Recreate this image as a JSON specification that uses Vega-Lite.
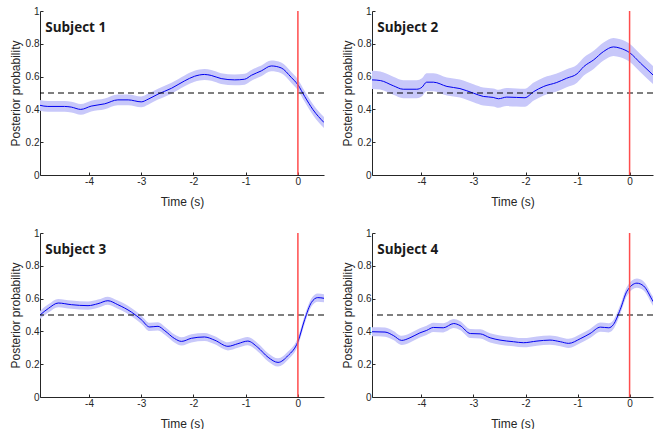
{
  "$schema": "https://vega.github.io/schema/vega-lite/v6.json",
  "padding": {"left": 9, "top": 6, "right": 0, "bottom": 0},
  "background": "white",
  "bounds": "flush",
  "columns": 2,
  "spacing": {"row": 58, "column": 48},
  "config": {
    "view": {"stroke": null},
    "axis": {
      "grid": false,
      "domainColor": "#262626",
      "tickColor": "#262626",
      "labelColor": "#262626",
      "titleColor": "#262626",
      "labelFont": "Liberation Sans",
      "titleFont": "Liberation Sans",
      "labelFontSize": 10,
      "titleFontSize": 12,
      "titleFontWeight": "normal",
      "labelPadding": 4,
      "tickSize": -3,
      "domainWidth": 1
    },
    "axisX": {"titlePadding": 10, "labelExpr": "'' + datum.value"},
    "axisY": {"titlePadding": 3, "labelExpr": "'' + datum.value"}
  },
  "datasets": {
    "curves": [
      {"s":1,"t":-4.94,"p":0.425,"lo":0.392,"hi":0.458},
      {"s":1,"t":-4.79,"p":0.418,"lo":0.385,"hi":0.451},
      {"s":1,"t":-4.47,"p":0.418,"lo":0.385,"hi":0.451},
      {"s":1,"t":-4.34,"p":0.414,"lo":0.381,"hi":0.447},
      {"s":1,"t":-4.16,"p":0.400,"lo":0.367,"hi":0.433},
      {"s":1,"t":-3.96,"p":0.420,"lo":0.387,"hi":0.453},
      {"s":1,"t":-3.70,"p":0.434,"lo":0.401,"hi":0.467},
      {"s":1,"t":-3.45,"p":0.458,"lo":0.425,"hi":0.491},
      {"s":1,"t":-3.25,"p":0.458,"lo":0.425,"hi":0.491},
      {"s":1,"t":-3.00,"p":0.446,"lo":0.413,"hi":0.479},
      {"s":1,"t":-2.87,"p":0.462,"lo":0.429,"hi":0.495},
      {"s":1,"t":-2.68,"p":0.493,"lo":0.460,"hi":0.526},
      {"s":1,"t":-2.42,"p":0.529,"lo":0.496,"hi":0.562},
      {"s":1,"t":-2.17,"p":0.574,"lo":0.541,"hi":0.607},
      {"s":1,"t":-1.98,"p":0.602,"lo":0.569,"hi":0.635},
      {"s":1,"t":-1.79,"p":0.613,"lo":0.580,"hi":0.646},
      {"s":1,"t":-1.66,"p":0.607,"lo":0.574,"hi":0.640},
      {"s":1,"t":-1.47,"p":0.588,"lo":0.555,"hi":0.621},
      {"s":1,"t":-1.21,"p":0.580,"lo":0.547,"hi":0.613},
      {"s":1,"t":-1.02,"p":0.584,"lo":0.551,"hi":0.617},
      {"s":1,"t":-0.89,"p":0.608,"lo":0.575,"hi":0.641},
      {"s":1,"t":-0.70,"p":0.635,"lo":0.602,"hi":0.668},
      {"s":1,"t":-0.51,"p":0.665,"lo":0.632,"hi":0.698},
      {"s":1,"t":-0.32,"p":0.653,"lo":0.620,"hi":0.686},
      {"s":1,"t":-0.13,"p":0.596,"lo":0.563,"hi":0.629},
      {"s":1,"t":0.00,"p":0.550,"lo":0.517,"hi":0.583},
      {"s":1,"t":0.13,"p":0.479,"lo":0.446,"hi":0.512},
      {"s":1,"t":0.29,"p":0.398,"lo":0.365,"hi":0.431},
      {"s":1,"t":0.50,"p":0.320,"lo":0.287,"hi":0.353},

      {"s":2,"t":-4.95,"p":0.580,"lo":0.525,"hi":0.635},
      {"s":2,"t":-4.79,"p":0.576,"lo":0.521,"hi":0.631},
      {"s":2,"t":-4.54,"p":0.544,"lo":0.489,"hi":0.599},
      {"s":2,"t":-4.35,"p":0.523,"lo":0.468,"hi":0.578},
      {"s":2,"t":-4.09,"p":0.523,"lo":0.468,"hi":0.578},
      {"s":2,"t":-3.99,"p":0.535,"lo":0.480,"hi":0.590},
      {"s":2,"t":-3.90,"p":0.566,"lo":0.511,"hi":0.621},
      {"s":2,"t":-3.77,"p":0.566,"lo":0.511,"hi":0.621},
      {"s":2,"t":-3.51,"p":0.540,"lo":0.485,"hi":0.595},
      {"s":2,"t":-3.26,"p":0.527,"lo":0.472,"hi":0.582},
      {"s":2,"t":-3.00,"p":0.499,"lo":0.444,"hi":0.554},
      {"s":2,"t":-2.81,"p":0.479,"lo":0.424,"hi":0.534},
      {"s":2,"t":-2.62,"p":0.473,"lo":0.418,"hi":0.528},
      {"s":2,"t":-2.52,"p":0.465,"lo":0.410,"hi":0.520},
      {"s":2,"t":-2.36,"p":0.475,"lo":0.420,"hi":0.530},
      {"s":2,"t":-2.17,"p":0.473,"lo":0.418,"hi":0.528},
      {"s":2,"t":-2.01,"p":0.471,"lo":0.416,"hi":0.526},
      {"s":2,"t":-1.85,"p":0.507,"lo":0.452,"hi":0.562},
      {"s":2,"t":-1.65,"p":0.540,"lo":0.485,"hi":0.595},
      {"s":2,"t":-1.40,"p":0.564,"lo":0.509,"hi":0.619},
      {"s":2,"t":-1.21,"p":0.590,"lo":0.535,"hi":0.645},
      {"s":2,"t":-1.01,"p":0.617,"lo":0.562,"hi":0.672},
      {"s":2,"t":-0.88,"p":0.661,"lo":0.606,"hi":0.716},
      {"s":2,"t":-0.69,"p":0.702,"lo":0.647,"hi":0.757},
      {"s":2,"t":-0.50,"p":0.753,"lo":0.698,"hi":0.808},
      {"s":2,"t":-0.31,"p":0.781,"lo":0.726,"hi":0.836},
      {"s":2,"t":-0.18,"p":0.773,"lo":0.718,"hi":0.828},
      {"s":2,"t":0.00,"p":0.746,"lo":0.691,"hi":0.801},
      {"s":2,"t":0.21,"p":0.682,"lo":0.627,"hi":0.737},
      {"s":2,"t":0.45,"p":0.610,"lo":0.555,"hi":0.665},
      {"s":2,"t":0.50,"p":0.595,"lo":0.540,"hi":0.650},

      {"s":3,"t":-4.94,"p":0.500,"lo":0.475,"hi":0.525},
      {"s":3,"t":-4.78,"p":0.540,"lo":0.515,"hi":0.565},
      {"s":3,"t":-4.59,"p":0.573,"lo":0.548,"hi":0.598},
      {"s":3,"t":-4.34,"p":0.563,"lo":0.538,"hi":0.588},
      {"s":3,"t":-4.02,"p":0.557,"lo":0.532,"hi":0.582},
      {"s":3,"t":-3.83,"p":0.569,"lo":0.544,"hi":0.594},
      {"s":3,"t":-3.64,"p":0.587,"lo":0.562,"hi":0.612},
      {"s":3,"t":-3.45,"p":0.563,"lo":0.538,"hi":0.588},
      {"s":3,"t":-3.19,"p":0.518,"lo":0.493,"hi":0.543},
      {"s":3,"t":-3.00,"p":0.472,"lo":0.447,"hi":0.497},
      {"s":3,"t":-2.84,"p":0.427,"lo":0.402,"hi":0.452},
      {"s":3,"t":-2.68,"p":0.431,"lo":0.406,"hi":0.456},
      {"s":3,"t":-2.55,"p":0.404,"lo":0.379,"hi":0.429},
      {"s":3,"t":-2.36,"p":0.356,"lo":0.331,"hi":0.381},
      {"s":3,"t":-2.23,"p":0.339,"lo":0.314,"hi":0.364},
      {"s":3,"t":-2.04,"p":0.358,"lo":0.333,"hi":0.383},
      {"s":3,"t":-1.79,"p":0.366,"lo":0.341,"hi":0.391},
      {"s":3,"t":-1.59,"p":0.346,"lo":0.321,"hi":0.371},
      {"s":3,"t":-1.34,"p":0.309,"lo":0.284,"hi":0.334},
      {"s":3,"t":-1.15,"p":0.325,"lo":0.300,"hi":0.350},
      {"s":3,"t":-0.96,"p":0.341,"lo":0.316,"hi":0.366},
      {"s":3,"t":-0.77,"p":0.303,"lo":0.278,"hi":0.328},
      {"s":3,"t":-0.57,"p":0.242,"lo":0.217,"hi":0.267},
      {"s":3,"t":-0.38,"p":0.211,"lo":0.186,"hi":0.236},
      {"s":3,"t":-0.19,"p":0.252,"lo":0.227,"hi":0.277},
      {"s":3,"t":0.00,"p":0.337,"lo":0.312,"hi":0.362},
      {"s":3,"t":0.13,"p":0.472,"lo":0.447,"hi":0.497},
      {"s":3,"t":0.26,"p":0.577,"lo":0.552,"hi":0.602},
      {"s":3,"t":0.38,"p":0.606,"lo":0.581,"hi":0.631},
      {"s":3,"t":0.50,"p":0.602,"lo":0.577,"hi":0.627},

      {"s":4,"t":-4.95,"p":0.398,"lo":0.370,"hi":0.426},
      {"s":4,"t":-4.70,"p":0.396,"lo":0.368,"hi":0.424},
      {"s":4,"t":-4.54,"p":0.375,"lo":0.347,"hi":0.403},
      {"s":4,"t":-4.38,"p":0.345,"lo":0.317,"hi":0.373},
      {"s":4,"t":-4.22,"p":0.361,"lo":0.333,"hi":0.389},
      {"s":4,"t":-4.03,"p":0.391,"lo":0.363,"hi":0.419},
      {"s":4,"t":-3.90,"p":0.406,"lo":0.378,"hi":0.434},
      {"s":4,"t":-3.77,"p":0.424,"lo":0.396,"hi":0.452},
      {"s":4,"t":-3.58,"p":0.422,"lo":0.394,"hi":0.450},
      {"s":4,"t":-3.38,"p":0.448,"lo":0.420,"hi":0.476},
      {"s":4,"t":-3.26,"p":0.436,"lo":0.408,"hi":0.464},
      {"s":4,"t":-3.06,"p":0.387,"lo":0.359,"hi":0.415},
      {"s":4,"t":-2.87,"p":0.385,"lo":0.357,"hi":0.413},
      {"s":4,"t":-2.68,"p":0.361,"lo":0.333,"hi":0.389},
      {"s":4,"t":-2.49,"p":0.347,"lo":0.319,"hi":0.375},
      {"s":4,"t":-2.23,"p":0.337,"lo":0.309,"hi":0.365},
      {"s":4,"t":-2.04,"p":0.331,"lo":0.303,"hi":0.359},
      {"s":4,"t":-1.78,"p":0.341,"lo":0.313,"hi":0.369},
      {"s":4,"t":-1.53,"p":0.347,"lo":0.319,"hi":0.375},
      {"s":4,"t":-1.33,"p":0.337,"lo":0.309,"hi":0.365},
      {"s":4,"t":-1.17,"p":0.327,"lo":0.299,"hi":0.355},
      {"s":4,"t":-0.95,"p":0.355,"lo":0.327,"hi":0.383},
      {"s":4,"t":-0.76,"p":0.387,"lo":0.359,"hi":0.415},
      {"s":4,"t":-0.56,"p":0.426,"lo":0.398,"hi":0.454},
      {"s":4,"t":-0.40,"p":0.422,"lo":0.394,"hi":0.450},
      {"s":4,"t":-0.31,"p":0.442,"lo":0.414,"hi":0.470},
      {"s":4,"t":-0.18,"p":0.533,"lo":0.505,"hi":0.561},
      {"s":4,"t":-0.05,"p":0.645,"lo":0.617,"hi":0.673},
      {"s":4,"t":0.14,"p":0.694,"lo":0.666,"hi":0.722},
      {"s":4,"t":0.27,"p":0.677,"lo":0.649,"hi":0.705},
      {"s":4,"t":0.45,"p":0.584,"lo":0.556,"hi":0.612},
      {"s":4,"t":0.50,"p":0.560,"lo":0.532,"hi":0.588}
    ]
  },
  "concat": [
    {
      "width": 284, "height": 164,
      "layer": [
        {"data": {"name": "curves"}, "transform": [{"filter": "datum.s == 1"}],
         "mark": {"type": "area", "color": "#c8c8fa", "interpolate": "monotone", "clip": true},
         "encoding": {
           "x": {"field": "t", "type": "quantitative", "scale": {"domain": [-4.94, 0.5], "nice": false, "zero": false}, "axis": {"values": [-4, -3, -2, -1, 0], "title": "Time (s)"}},
           "y": {"field": "lo", "type": "quantitative", "scale": {"domain": [0, 1], "nice": false}, "axis": {"values": [0, 0.2, 0.4, 0.6, 0.8, 1], "labelOverlap": false, "title": "Posterior probability"}},
           "y2": {"field": "hi"}}},
        {"data": {"name": "curves"}, "transform": [{"filter": "datum.s == 1"}],
         "mark": {"type": "line", "color": "#0000f0", "strokeWidth": 1, "interpolate": "monotone", "clip": true},
         "encoding": {
           "x": {"field": "t", "type": "quantitative", "axis": {"values": [-4, -3, -2, -1, 0], "title": "Time (s)"}},
           "y": {"field": "p", "type": "quantitative", "axis": {"values": [0, 0.2, 0.4, 0.6, 0.8, 1], "labelOverlap": false, "title": "Posterior probability"}}}},
        {"data": {"values": [{"v": 0.5}]},
         "mark": {"type": "rule", "color": "#000000", "strokeDash": [6, 4], "strokeWidth": 1.2},
         "encoding": {"y": {"field": "v", "type": "quantitative", "axis": {"values": [0, 0.2, 0.4, 0.6, 0.8, 1], "labelOverlap": false, "title": "Posterior probability"}}}},
        {"data": {"values": [{"v": 0}]},
         "mark": {"type": "rule", "color": "#ff4d4d", "strokeWidth": 1.5},
         "encoding": {"x": {"field": "v", "type": "quantitative", "axis": {"values": [-4, -3, -2, -1, 0], "title": "Time (s)"}}}},
        {"data": {"values": [{"label": "Subject 1", "tx": -4.84, "ty": 0.874}]},
         "mark": {"type": "text", "align": "left", "baseline": "alphabetic", "font": "Open Sans", "fontWeight": "bold", "fontSize": 13.5, "color": "#1a1a1a"},
         "encoding": {
           "x": {"field": "tx", "type": "quantitative", "axis": {"values": [-4, -3, -2, -1, 0], "title": "Time (s)"}},
           "y": {"field": "ty", "type": "quantitative", "axis": {"values": [0, 0.2, 0.4, 0.6, 0.8, 1], "labelOverlap": false, "title": "Posterior probability"}},
           "text": {"field": "label"}}}
      ]
    },
    {
      "width": 281, "height": 164,
      "layer": [
        {"data": {"name": "curves"}, "transform": [{"filter": "datum.s == 2"}],
         "mark": {"type": "area", "color": "#c8c8fa", "interpolate": "monotone", "clip": true},
         "encoding": {
           "x": {"field": "t", "type": "quantitative", "scale": {"domain": [-4.95, 0.45], "nice": false, "zero": false}, "axis": {"values": [-4, -3, -2, -1, 0], "title": "Time (s)"}},
           "y": {"field": "lo", "type": "quantitative", "scale": {"domain": [0, 1], "nice": false}, "axis": {"values": [0, 0.2, 0.4, 0.6, 0.8, 1], "labelOverlap": false, "title": "Posterior probability"}},
           "y2": {"field": "hi"}}},
        {"data": {"name": "curves"}, "transform": [{"filter": "datum.s == 2"}],
         "mark": {"type": "line", "color": "#0000f0", "strokeWidth": 1, "interpolate": "monotone", "clip": true},
         "encoding": {
           "x": {"field": "t", "type": "quantitative", "axis": {"values": [-4, -3, -2, -1, 0], "title": "Time (s)"}},
           "y": {"field": "p", "type": "quantitative", "axis": {"values": [0, 0.2, 0.4, 0.6, 0.8, 1], "labelOverlap": false, "title": "Posterior probability"}}}},
        {"data": {"values": [{"v": 0.5}]},
         "mark": {"type": "rule", "color": "#000000", "strokeDash": [6, 4], "strokeWidth": 1.2},
         "encoding": {"y": {"field": "v", "type": "quantitative", "axis": {"values": [0, 0.2, 0.4, 0.6, 0.8, 1], "labelOverlap": false, "title": "Posterior probability"}}}},
        {"data": {"values": [{"v": 0}]},
         "mark": {"type": "rule", "color": "#ff4d4d", "strokeWidth": 1.5},
         "encoding": {"x": {"field": "v", "type": "quantitative", "axis": {"values": [-4, -3, -2, -1, 0], "title": "Time (s)"}}}},
        {"data": {"values": [{"label": "Subject 2", "tx": -4.85, "ty": 0.874}]},
         "mark": {"type": "text", "align": "left", "baseline": "alphabetic", "font": "Open Sans", "fontWeight": "bold", "fontSize": 13.5, "color": "#1a1a1a"},
         "encoding": {
           "x": {"field": "tx", "type": "quantitative", "axis": {"values": [-4, -3, -2, -1, 0], "title": "Time (s)"}},
           "y": {"field": "ty", "type": "quantitative", "axis": {"values": [0, 0.2, 0.4, 0.6, 0.8, 1], "labelOverlap": false, "title": "Posterior probability"}},
           "text": {"field": "label"}}}
      ]
    },
    {
      "width": 284, "height": 164,
      "layer": [
        {"data": {"name": "curves"}, "transform": [{"filter": "datum.s == 3"}],
         "mark": {"type": "area", "color": "#c8c8fa", "interpolate": "monotone", "clip": true},
         "encoding": {
           "x": {"field": "t", "type": "quantitative", "scale": {"domain": [-4.94, 0.5], "nice": false, "zero": false}, "axis": {"values": [-4, -3, -2, -1, 0], "title": "Time (s)"}},
           "y": {"field": "lo", "type": "quantitative", "scale": {"domain": [0, 1], "nice": false}, "axis": {"values": [0, 0.2, 0.4, 0.6, 0.8, 1], "labelOverlap": false, "title": "Posterior probability"}},
           "y2": {"field": "hi"}}},
        {"data": {"name": "curves"}, "transform": [{"filter": "datum.s == 3"}],
         "mark": {"type": "line", "color": "#0000f0", "strokeWidth": 1, "interpolate": "monotone", "clip": true},
         "encoding": {
           "x": {"field": "t", "type": "quantitative", "axis": {"values": [-4, -3, -2, -1, 0], "title": "Time (s)"}},
           "y": {"field": "p", "type": "quantitative", "axis": {"values": [0, 0.2, 0.4, 0.6, 0.8, 1], "labelOverlap": false, "title": "Posterior probability"}}}},
        {"data": {"values": [{"v": 0.5}]},
         "mark": {"type": "rule", "color": "#000000", "strokeDash": [6, 4], "strokeWidth": 1.2},
         "encoding": {"y": {"field": "v", "type": "quantitative", "axis": {"values": [0, 0.2, 0.4, 0.6, 0.8, 1], "labelOverlap": false, "title": "Posterior probability"}}}},
        {"data": {"values": [{"v": 0}]},
         "mark": {"type": "rule", "color": "#ff4d4d", "strokeWidth": 1.5},
         "encoding": {"x": {"field": "v", "type": "quantitative", "axis": {"values": [-4, -3, -2, -1, 0], "title": "Time (s)"}}}},
        {"data": {"values": [{"label": "Subject 3", "tx": -4.84, "ty": 0.872}]},
         "mark": {"type": "text", "align": "left", "baseline": "alphabetic", "font": "Open Sans", "fontWeight": "bold", "fontSize": 13.5, "color": "#1a1a1a"},
         "encoding": {
           "x": {"field": "tx", "type": "quantitative", "axis": {"values": [-4, -3, -2, -1, 0], "title": "Time (s)"}},
           "y": {"field": "ty", "type": "quantitative", "axis": {"values": [0, 0.2, 0.4, 0.6, 0.8, 1], "labelOverlap": false, "title": "Posterior probability"}},
           "text": {"field": "label"}}}
      ]
    },
    {
      "width": 281, "height": 164,
      "layer": [
        {"data": {"name": "curves"}, "transform": [{"filter": "datum.s == 4"}],
         "mark": {"type": "area", "color": "#c8c8fa", "interpolate": "monotone", "clip": true},
         "encoding": {
           "x": {"field": "t", "type": "quantitative", "scale": {"domain": [-4.95, 0.45], "nice": false, "zero": false}, "axis": {"values": [-4, -3, -2, -1, 0], "title": "Time (s)"}},
           "y": {"field": "lo", "type": "quantitative", "scale": {"domain": [0, 1], "nice": false}, "axis": {"values": [0, 0.2, 0.4, 0.6, 0.8, 1], "labelOverlap": false, "title": "Posterior probability"}},
           "y2": {"field": "hi"}}},
        {"data": {"name": "curves"}, "transform": [{"filter": "datum.s == 4"}],
         "mark": {"type": "line", "color": "#0000f0", "strokeWidth": 1, "interpolate": "monotone", "clip": true},
         "encoding": {
           "x": {"field": "t", "type": "quantitative", "axis": {"values": [-4, -3, -2, -1, 0], "title": "Time (s)"}},
           "y": {"field": "p", "type": "quantitative", "axis": {"values": [0, 0.2, 0.4, 0.6, 0.8, 1], "labelOverlap": false, "title": "Posterior probability"}}}},
        {"data": {"values": [{"v": 0.5}]},
         "mark": {"type": "rule", "color": "#000000", "strokeDash": [6, 4], "strokeWidth": 1.2},
         "encoding": {"y": {"field": "v", "type": "quantitative", "axis": {"values": [0, 0.2, 0.4, 0.6, 0.8, 1], "labelOverlap": false, "title": "Posterior probability"}}}},
        {"data": {"values": [{"v": 0}]},
         "mark": {"type": "rule", "color": "#ff4d4d", "strokeWidth": 1.5},
         "encoding": {"x": {"field": "v", "type": "quantitative", "axis": {"values": [-4, -3, -2, -1, 0], "title": "Time (s)"}}}},
        {"data": {"values": [{"label": "Subject 4", "tx": -4.85, "ty": 0.872}]},
         "mark": {"type": "text", "align": "left", "baseline": "alphabetic", "font": "Open Sans", "fontWeight": "bold", "fontSize": 13.5, "color": "#1a1a1a"},
         "encoding": {
           "x": {"field": "tx", "type": "quantitative", "axis": {"values": [-4, -3, -2, -1, 0], "title": "Time (s)"}},
           "y": {"field": "ty", "type": "quantitative", "axis": {"values": [0, 0.2, 0.4, 0.6, 0.8, 1], "labelOverlap": false, "title": "Posterior probability"}},
           "text": {"field": "label"}}}
      ]
    }
  ]
}
